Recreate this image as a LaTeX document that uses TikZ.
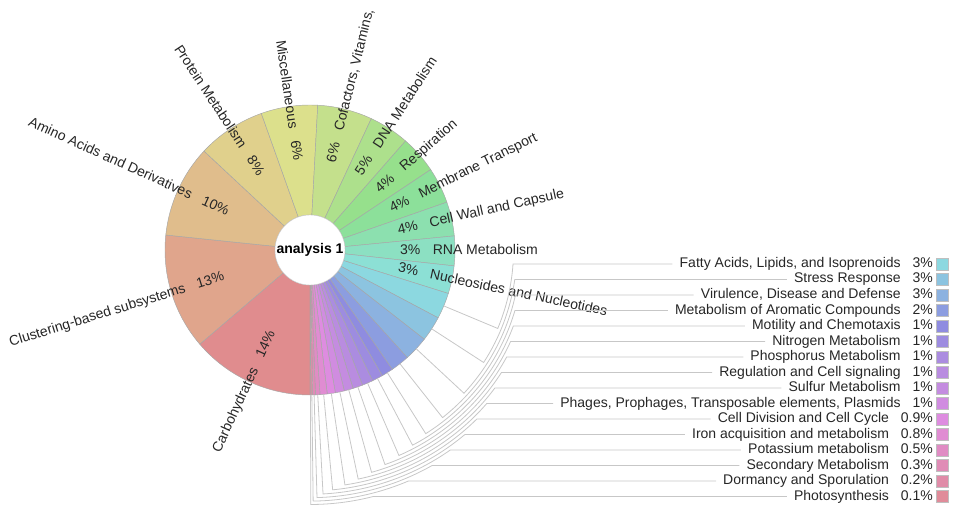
\documentclass[tikz,border=0pt]{standalone}
\usepackage{fontspec}
\setmainfont{Liberation Sans}
\usetikzlibrary{calc}
\newcommand{\KColor}[1]{\definecolor{kctmp}{Hsb}{#1,0.375,0.88}\colorlet{kc}[rgb]{kctmp}}
\newcommand{\KFill}[4]{%
  \KColor{#4}%
  \path[slice, fill=kc] (#2:35) arc[start angle=#2, end angle=#3, radius=35]
     -- (#3:145) arc[start angle=#3, end angle=#2, radius=145] -- cycle;%
}
\newcommand{\KBigFill}[7]{\KFill{#1}{#2}{#3}{#4}}
\newcommand{\KSmallFill}[6]{\KFill{#1}{#2}{#3}{#4}}
\newcommand{\KBigLabel}[7]{%
  \pgfmathsetmacro{\km}{(#2+#3)/2}%
  \if R#7%
    \node[lbl, rotate=\km, anchor=west] (p#1) at (\km:90) {#5\%};%
    \node[lbl, rotate=\km, anchor=west] (n#1) at ($(p#1.east)+(\km:12)$) {#6};%
  \else
    \pgfmathsetmacro{\kr}{\km+180}%
    \node[lbl, rotate=\kr, anchor=east] (p#1) at (\km:90) {#5\%};%
    \node[lbl, rotate=\kr, anchor=east] (n#1) at ($(p#1.west)+(\km:12)$) {#6};%
  \fi
}
\newcommand{\KSmallKey}[6]{%
  \pgfmathsetmacro{\km}{(#2+#3)/2}%
  \pgfmathsetmacro{\kr}{203.5+3.4*#1}%
  \pgfmathsetmacro{\ky}{-14-15.5*#1}%
  \pgfmathsetmacro{\ka}{asin(\ky/\kr)}%
  \KColor{#4}%
  \coordinate (e#1) at (\km:145);%
  \node[lbl, anchor=east] (lp#1) at (623,\ky) {#5};%
  \node[lbl, anchor=east] (ln#1) at ([xshift=-11.5pt]lp#1.west) {#6};%
  \node[swatch, fill=kc] (sw#1) at (632,\ky) {};%
  \draw[keyline] (e#1) -- (\km:\kr) arc[start angle=\km, end angle=\ka, radius=\kr] -- ([xshift=-7pt]ln#1.west);%
}
\begin{document}
\begin{tikzpicture}[x=1pt,y=1pt,
  slice/.style={draw=black!35, line width=0.45pt},
  lbl/.style={inner sep=0pt, text=black!85, font=\fontsize{14}{16}\selectfont, text height=10pt, text depth=3pt},
  keyline/.style={draw=black!22, line width=0.8pt},
  swatch/.style={draw=black!25, line width=0.4pt, minimum size=12pt, inner sep=0pt},
  hub/.style={circle, fill=white, draw=black!20, line width=0.4pt, minimum size=70pt, inner sep=0pt, text=black, font=\bfseries\fontsize{14}{16}\selectfont}]
\useasboundingbox (-310,-258) rectangle (647,250);
\def\bigdata{%
\kitem{1}{270}{220.5}{359}{14}{Carbohydrates}{L}%
\kitem{2}{220.5}{174.06}{18}{13}{Clustering-based subsystems}{L}%
\kitem{3}{174.06}{136.98}{35}{10}{Amino Acids and Derivatives}{L}%
\kitem{4}{136.98}{109.62}{48}{8}{Protein Metabolism}{L}%
\kitem{5}{109.62}{86.94}{63}{6}{Miscellaneous}{L}%
\kitem{6}{86.94}{64.98}{80}{6}{Cofactors, Vitamins,}{R}%
\kitem{7}{64.98}{48.78}{97}{5}{DNA Metabolism}{R}%
\kitem{8}{48.78}{33.66}{113}{4}{Respiration}{R}%
\kitem{9}{33.66}{19.26}{130}{4}{Membrane Transport}{R}%
\kitem{10}{19.26}{5.58}{145}{4}{Cell Wall and Capsule}{R}%
\kitem{11}{5.58}{-6.3}{158}{3}{RNA Metabolism}{R}%
\kitem{12}{-6.3}{-17.46}{172}{3}{Nucleosides and Nucleotides}{R}%
}
\def\smalldata{%
\kitem{0}{-17.46}{-27.9}{186}{3\%}{Fatty Acids, Lipids, and Isoprenoids}%
\kitem{1}{-27.9}{-37.98}{200}{3\%}{Stress Response}%
\kitem{2}{-37.98}{-47.88}{213}{3\%}{Virulence, Disease and Defense}%
\kitem{3}{-47.88}{-55.44}{228}{2\%}{Metabolism of Aromatic Compounds}%
\kitem{4}{-55.44}{-60.12}{242}{1\%}{Motility and Chemotaxis}%
\kitem{5}{-60.12}{-64.44}{252}{1\%}{Nitrogen Metabolism}%
\kitem{6}{-64.44}{-68.76}{262}{1\%}{Phosphorus Metabolism}%
\kitem{7}{-68.76}{-72.72}{272}{1\%}{Regulation and Cell signaling}%
\kitem{8}{-72.72}{-76.32}{280}{1\%}{Sulfur Metabolism}%
\kitem{9}{-76.32}{-79.92}{288}{1\%}{Phages, Prophages, Transposable elements, Plasmids}%
\kitem{10}{-79.92}{-83.16}{298}{0.9\%}{Cell Division and Cell Cycle}%
\kitem{11}{-83.16}{-86.04}{310}{0.8\%}{Iron acquisition and metabolism}%
\kitem{12}{-86.04}{-87.84}{320}{0.5\%}{Potassium metabolism}%
\kitem{13}{-87.84}{-88.92}{330}{0.3\%}{Secondary Metabolism}%
\kitem{14}{-88.92}{-89.64}{340}{0.2\%}{Dormancy and Sporulation}%
\kitem{15}{-89.64}{-90}{350}{0.1\%}{Photosynthesis}%
}
\let\kitem\KBigFill \bigdata
\let\kitem\KSmallFill \smalldata
\node[hub] (root) at (0,0) {analysis 1};
\let\kitem\KBigLabel \bigdata
\let\kitem\KSmallKey \smalldata
\end{tikzpicture}
\end{document}
